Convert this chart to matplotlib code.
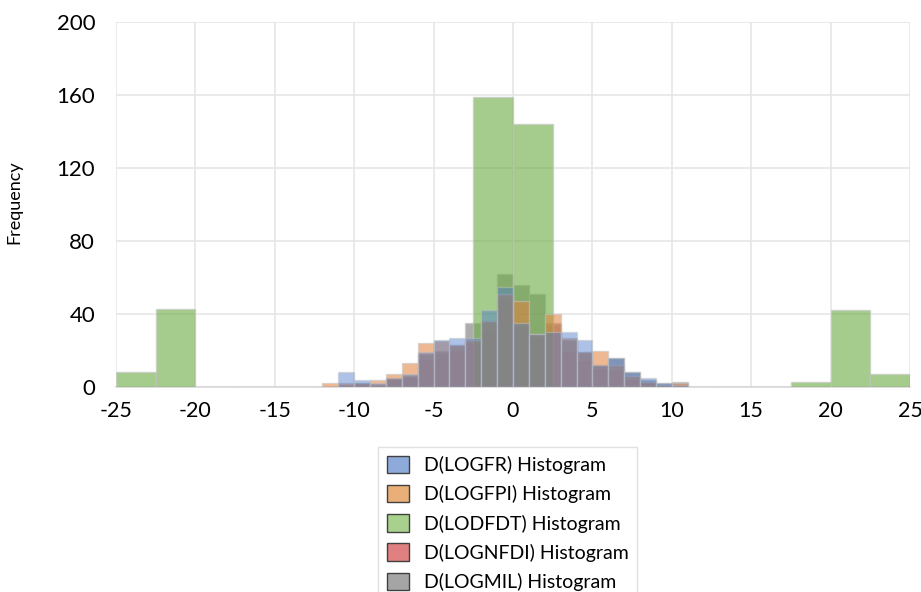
import matplotlib
matplotlib.use("Agg")
import matplotlib.pyplot as plt
from matplotlib.patches import Patch
import numpy as np

# ---- data ----
# narrow bins (width 1) for four of the series
narrow_left = [-12, -11, -10, -9, -8, -7, -6, -5, -4, -3, -2, -1,
               0, 1, 2, 3, 4, 5, 6, 7, 8, 9, 10]
logfr = [0, 8, 4, 2, 5, 7, 19, 26, 27, 27, 42, 55,
         35, 29, 30, 30, 26, 12, 16, 8, 5, 2, 1]
logfpi = [2, 2, 2, 4, 7, 13, 24, 25, 23, 26, 36, 51,
          47, 29, 40, 27, 19, 20, 12, 6, 3, 1, 2]
lognfdi = [0, 1, 1, 1, 4, 5, 15, 18, 20, 24, 30, 48,
           33, 27, 34, 20, 14, 10, 9, 4, 2, 1, 0]
logmil = [0, 1, 2, 1, 5, 6, 18, 20, 23, 35, 36, 62,
          56, 51, 35, 26, 19, 12, 16, 8, 4, 2, 3]

# wide bins (width 2.5) for LODFDT
wide_left = [-25, -22.5, -20, -17.5, -15, -12.5, -10, -7.5, -5, -2.5,
             0, 2.5, 5, 7.5, 10, 12.5, 15, 17.5, 20, 22.5]
lodfdt = [8, 43, 0, 0, 0, 0, 0, 0, 0, 159,
          144, 0, 0, 0, 0, 0, 0, 3, 42, 7]

labels = ["D(LOGFR) Histogram", "D(LOGFPI) Histogram", "D(LODFDT) Histogram",
          "D(LOGNFDI) Histogram", "D(LOGMIL) Histogram"]

c_blue, c_orange, c_green, c_red, c_gray = "#4a78c8", "#e07f3a", "#70ad47", "#d64545", "#7f7f7f"
edge = "#c4c4c4"

plt.rcParams['font.family'] = ['Lato', 'DejaVu Sans']
plt.rcParams['axes.unicode_minus'] = False

fig = plt.figure(figsize=(9.21, 5.92), dpi=100)
ax = fig.add_axes([116 / 921, 1 - 387 / 592, 794 / 921, 365 / 592])

# draw order chosen so the overlaps look like the reference
ax.bar(narrow_left, lognfdi, width=1, align='edge', color=c_red, alpha=0.3,
       edgecolor=edge, linewidth=1, zorder=2)
ax.bar(narrow_left, logmil, width=1, align='edge', color=c_gray, alpha=0.65,
       edgecolor=edge, linewidth=1, zorder=3)
ax.bar(wide_left, lodfdt, width=2.5, align='edge', color=c_green, alpha=0.62,
       edgecolor=edge, linewidth=1, zorder=4)
ax.bar(narrow_left, logfpi, width=1, align='edge', color=c_orange, alpha=0.55,
       edgecolor=edge, linewidth=1, zorder=5)
ax.bar(narrow_left, logfr, width=1, align='edge', color=c_blue, alpha=0.45,
       edgecolor=edge, linewidth=1, zorder=6)

ax.set_xlim(-25, 25)
ax.set_ylim(0, 200)
ax.set_xticks(range(-25, 26, 5))
ax.set_yticks(range(0, 201, 40))
ax.tick_params(length=0, labelsize=16, colors='#000000')
ax.tick_params(axis='x', labelsize=15.5, pad=10)
ax.tick_params(axis='y', pad=15)

ax.grid(True, color='#e6e6e6', linewidth=1.2, zorder=0)
ax.set_axisbelow(True)
for s in ['top', 'right', 'left']:
    ax.spines[s].set_visible(False)
ax.spines['bottom'].set_color('#d9d9d9')
ax.spines['bottom'].set_linewidth(1.2)

ax.set_ylabel("Frequency", fontsize=13)
ax.yaxis.set_label_coords(-0.118, 0.505)

handles = [Patch(facecolor=c, edgecolor='#404040', linewidth=1)
           for c in ["#8eaadb", "#eaae78", "#a9d18e", "#e08080", "#a5a5a5"]]
fig.legend(handles, labels, loc='upper left', bbox_to_anchor=(378 / 921, 1 - 447 / 592),
           fontsize=14, frameon=True, fancybox=False, edgecolor='#d9d9d9',
           borderaxespad=0, borderpad=0.45, labelspacing=0.56,
           handlelength=1.15, handleheight=1.0, handletextpad=0.75)

fig.savefig("out.png", dpi=100)
